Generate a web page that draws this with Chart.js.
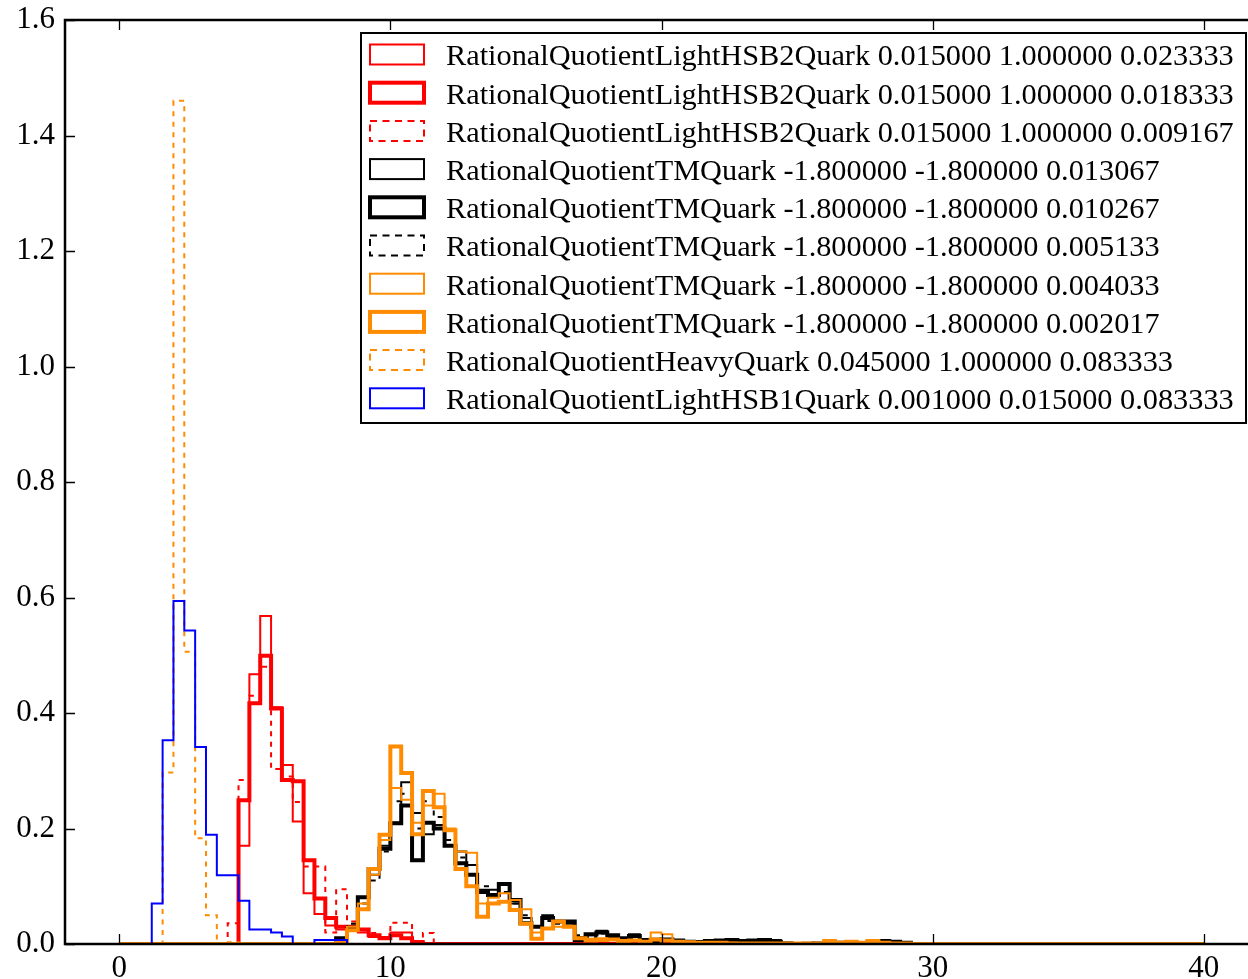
<!DOCTYPE html>
<html>
<head>
<meta charset="utf-8">
<script src="https://cdn.jsdelivr.net/npm/chart.js@4.4.0/dist/chart.umd.min.js"></script>
<style>
  html, body { margin: 0; padding: 0; background: #fff; }
  #wrap { width: 1248px; height: 979px; overflow: hidden; position: relative; }
  canvas { position: absolute; left: 0; top: 0; }
</style>
</head>
<body>
<div id="wrap"><canvas id="hist" width="1270" height="979"></canvas></div>
<script>
// Histograma: largura do bin 0.4, de 0 a 40
const binWidth = 0.4;
const histMin = 0;
const histMax = 40;

const xTicks = [0, 10, 20, 30, 40];
const yTicks = [0, 0.2, 0.4, 0.6, 0.8, 1.0, 1.2, 1.4, 1.6];

const seriesLabels = [
  'RationalQuotientLightHSB2Quark 0.015000 1.000000 0.023333',
  'RationalQuotientLightHSB2Quark 0.015000 1.000000 0.018333',
  'RationalQuotientLightHSB2Quark 0.015000 1.000000 0.009167',
  'RationalQuotientTMQuark -1.800000 -1.800000 0.013067',
  'RationalQuotientTMQuark -1.800000 -1.800000 0.010267',
  'RationalQuotientTMQuark -1.800000 -1.800000 0.005133',
  'RationalQuotientTMQuark -1.800000 -1.800000 0.004033',
  'RationalQuotientTMQuark -1.800000 -1.800000 0.002017',
  'RationalQuotientHeavyQuark 0.045000 1.000000 0.083333',
  'RationalQuotientLightHSB1Quark 0.001000 0.015000 0.083333'
];

// primeiro bin de cada serie (valor de x)
const seriesStart = [4.4, 4.4, 4.0, 8.0, 8.0, 8.0, 8.0, 8.0, 1.6, 1.2];

const hsb2A = [0.17, 0.467, 0.568, 0.41, 0.31, 0.212, 0.088, 0.052, 0.032, 0.025, 0.03, 0.02, 0.012, 0.012, 0.02, 0.02, 0.005];
const hsb2B = [0.249, 0.417, 0.499, 0.408, 0.284, 0.282, 0.145, 0.079, 0.045, 0.03, 0.03, 0.025, 0.015, 0.01, 0.015, 0.01, 0.003];
const hsb2C = [0.036, 0.284, 0.43, 0.48, 0.303, 0.29, 0.246, 0.134, 0.134, 0.02, 0.095, 0.039, 0.024, 0.019, 0.01, 0.037, 0.037, 0.005, 0.019];

const tmA = [0.005, 0.03, 0.06, 0.12, 0.17, 0.21, 0.28, 0.227, 0.19, 0.206, 0.17, 0.16, 0.137, 0.094, 0.094, 0.102, 0.07, 0.045,
  0.03, 0.05, 0.039, 0.035, 0.012, 0.015, 0.023, 0.012, 0.008, 0.017, 0.007, 0.009, 0.006, 0.007, 0.004, 0.005, 0.006, 0.004,
  0.007, 0.006, 0.007, 0.006, 0.007, 0.002, 0, 0.002, 0.001, 0.002, 0.002, 0.003, 0, 0.002, 0.004, 0.005, 0.003];
const tmB = [0.01, 0.025, 0.081, 0.13, 0.165, 0.209, 0.24, 0.145, 0.21, 0.2, 0.17, 0.14, 0.12, 0.09, 0.085, 0.104, 0.076, 0.036,
  0.03, 0.045, 0.039, 0.039, 0.007, 0.017, 0.02, 0.015, 0.01, 0.014, 0.007, 0.005, 0.008, 0.006, 0.004, 0.003, 0.005, 0.006,
  0.007, 0.005, 0.006, 0.007, 0.004, 0.001, 0, 0, 0.001, 0.001, 0.002, 0.002, 0.001, 0.003, 0.005, 0.004, 0.002];
const tmC = [0.008, 0.035, 0.07, 0.11, 0.16, 0.247, 0.26, 0.2, 0.247, 0.22, 0.18, 0.15, 0.12, 0.1, 0.085, 0.09, 0.07, 0.05,
  0.03, 0.04, 0.035, 0.03, 0.015, 0.012, 0.018, 0.012, 0.01, 0.01, 0.006, 0.005, 0.006, 0.004, 0.003, 0.004, 0.003, 0.004,
  0.003, 0.004, 0.003, 0.002, 0.002, 0.001, 0.001, 0.001, 0.001, 0.002, 0.001, 0.001, 0.001, 0.001, 0.002, 0.002, 0.001];
const tmD = [0.005, 0.03, 0.07, 0.12, 0.18, 0.27, 0.25, 0.21, 0.24, 0.26, 0.2, 0.16, 0.158, 0.07, 0.08, 0.088, 0.076, 0.06,
  0.02, 0.027, 0.03, 0.03, 0.01, 0.009, 0.01, 0.008, 0.006, 0.007, 0.005, 0.02, 0.017, 0.005, 0.004, 0.003, 0.002, 0.002,
  0.002, 0.001, 0.001, 0.001, 0.001, 0.001, 0.001, 0.001, 0.001, 0.006, 0.002, 0.004, 0.002, 0.004, 0.002, 0.001, 0.001];
const tmE = [0.005, 0.024, 0.06, 0.13, 0.189, 0.342, 0.296, 0.19, 0.265, 0.237, 0.197, 0.13, 0.1, 0.047, 0.07, 0.073, 0.059, 0.035,
  0.009, 0.027, 0.039, 0.03, 0.01, 0.006, 0.007, 0.008, 0.005, 0.006, 0.004, 0.008, 0.006, 0.004, 0.003, 0.002, 0.002, 0.002,
  0.001, 0.001, 0.001, 0.001, 0.001, 0.001, 0.001, 0.001, 0.001, 0.005, 0.002, 0.004, 0.002, 0.005, 0.002, 0.001, 0.001];

const heavy = [0.297, 1.46, 0.506, 0.183, 0.05, 0, 0.003];
const hsb1 = [0.07, 0.353, 0.594, 0.543, 0.341, 0.189, 0.119, 0.119, 0.075, 0.025, 0.025, 0.02, 0.013, 0, 0, 0.007, 0.007, 0.007];

const seriesValues = [hsb2A, hsb2B, hsb2C, tmA, tmB, tmC, tmD, tmE, heavy, hsb1];

// Estilos (cor, espessura, tracejado)
const seriesColors = ['#ff0000', '#ff0000', '#ff0000', '#000000', '#000000', '#000000', '#ff8c00', '#ff8c00', '#ff8c00', '#0000ff'];
const seriesWidths = [2, 4, 2, 2, 4, 2, 2, 4, 2, 2];
const seriesDash = [[], [], [5, 5.5], [], [], [5, 5.5], [], [], [5, 5.5], []];
const legendDash = [[], [], [7, 5.5], [], [], [7, 5.5], [], [], [7, 5.5], []];

const serifFont = "'Liberation Serif', 'DejaVu Serif', serif";

// monta os pontos do histograma em degraus
function buildSteps(start, values) {
  const nBins = Math.round((histMax - histMin) / binWidth);
  const offset = Math.round((start - histMin) / binWidth);
  const pts = [];
  for (let i = 0; i < nBins; i++) {
    const j = i - offset;
    const v = (j >= 0 && j < values.length) ? values[j] : 0;
    pts.push({ x: histMin + i * binWidth, y: v });
  }
  pts.push({ x: histMax, y: 0 });
  return pts;
}

const datasets = seriesValues.map(function(vals, i) {
  return {
    label: seriesLabels[i],
    data: buildSteps(seriesStart[i], vals),
    borderColor: seriesColors[i],
    borderWidth: seriesWidths[i],
    borderDash: seriesDash[i],
    borderJoinStyle: 'miter',
    stepped: 'before',
    pointRadius: 0,
    fill: false,
    tension: 0,
    order: seriesValues.length - 1 - i
  };
});

// Moldura e ticks para dentro
const framePlugin = {
  id: 'frame',
  afterDatasetsDraw(chart) {
    const ctx = chart.ctx;
    const a = chart.chartArea;
    const xs = chart.scales.x, ys = chart.scales.y;
    ctx.save();
    ctx.strokeStyle = '#000';
    ctx.lineWidth = 1.3;
    xTicks.forEach(function(v) {
      const px = Math.round(xs.getPixelForValue(v)) + 0.5;
      ctx.beginPath();
      ctx.moveTo(px, a.bottom); ctx.lineTo(px, a.bottom - 10);
      ctx.moveTo(px, a.top); ctx.lineTo(px, a.top + 10);
      ctx.stroke();
    });
    yTicks.forEach(function(v) {
      const py = Math.round(ys.getPixelForValue(v)) + 0.5;
      ctx.beginPath();
      ctx.moveTo(a.left, py); ctx.lineTo(a.left + 10, py);
      ctx.moveTo(a.right, py); ctx.lineTo(a.right - 10, py);
      ctx.stroke();
    });
    ctx.lineWidth = 2.5;
    ctx.strokeRect(a.left, a.top, a.right - a.left, a.bottom - a.top);
    ctx.restore();
  }
};

// Legenda desenhada dentro da area do grafico
const legendPlugin = {
  id: 'boxLegend',
  afterDraw(chart) {
    const ctx = chart.ctx;
    const box = { x: 361, y: 33, w: 885, h: 390 };
    const rowH = 38.2;
    ctx.save();
    ctx.fillStyle = '#fff';
    ctx.fillRect(box.x, box.y, box.w, box.h);
    ctx.strokeStyle = '#000';
    ctx.lineWidth = 2;
    ctx.strokeRect(box.x, box.y, box.w, box.h);
    ctx.font = '30.3px ' + serifFont;
    ctx.textBaseline = 'middle';
    ctx.textAlign = 'left';
    seriesLabels.forEach(function(lbl, i) {
      const cy = 54.5 + i * rowH;
      ctx.strokeStyle = seriesColors[i];
      ctx.lineWidth = seriesWidths[i];
      ctx.setLineDash(legendDash[i]);
      ctx.strokeRect(370, cy - 10, 54, 20);
      ctx.setLineDash([]);
      ctx.fillStyle = '#000';
      ctx.fillText(lbl, 446, cy + 3);
    });
    ctx.restore();
  }
};

new Chart(document.getElementById('hist').getContext('2d'), {
  type: 'line',
  data: { datasets: datasets },
  options: {
    responsive: false,
    animation: false,
    devicePixelRatio: 1,
    layout: { padding: { top: 20, right: 12, left: 0, bottom: 0 } },
    plugins: { legend: { display: false }, tooltip: { enabled: false } },
    scales: {
      x: {
        type: 'linear',
        min: -2,
        max: 42,
        grid: { display: false, drawTicks: false },
        border: { display: false },
        afterFit: function(s) { s.height = 35; },
        afterBuildTicks: function(s) { s.ticks = xTicks.map(function(v) { return { value: v }; }); },
        ticks: {
          color: '#000',
          padding: 6,
          maxRotation: 0,
          font: { family: serifFont, size: 31 },
          callback: function(v) { return String(v); }
        }
      },
      y: {
        min: 0,
        max: 1.6,
        grid: { display: false, drawTicks: false },
        border: { display: false },
        afterFit: function(s) { s.width = 65; s.paddingTop = 0; s.paddingBottom = 0; },
        afterBuildTicks: function(s) { s.ticks = yTicks.map(function(v) { return { value: v }; }); },
        ticks: {
          color: '#000',
          padding: 10,
          font: { family: serifFont, size: 31 },
          callback: function(v) { return Number(v).toFixed(1); }
        }
      }
    }
  },
  plugins: [framePlugin, legendPlugin]
});
</script>
</body>
</html>
